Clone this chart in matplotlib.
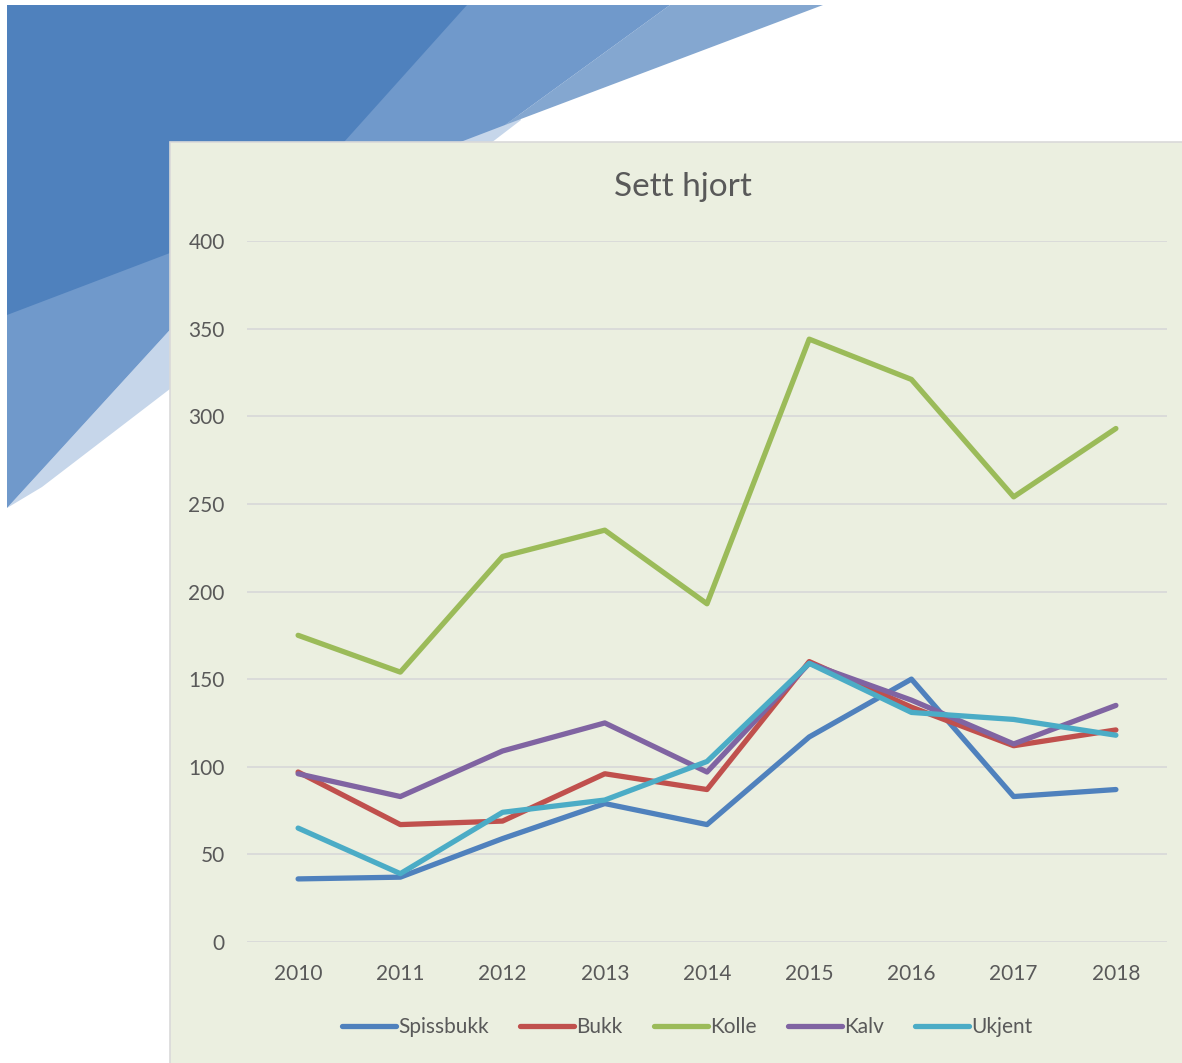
import matplotlib
matplotlib.use("Agg")
import matplotlib.pyplot as plt
from matplotlib.patches import Polygon, Rectangle

# data
years = [2010, 2011, 2012, 2013, 2014, 2015, 2016, 2017, 2018]
spissbukk = [36, 37, 59, 79, 67, 117, 150, 83, 87]
bukk = [97, 67, 69, 96, 87, 160, 134, 112, 121]
kolle = [175, 154, 220, 235, 193, 344, 321, 254, 293]
kalv = [96, 83, 109, 125, 97, 159, 138, 113, 135]
ukjent = [65, 39, 74, 81, 103, 159, 131, 127, 118]

series = [
    ("Spissbukk", spissbukk, "#4F81BD"),
    ("Bukk", bukk, "#C0504D"),
    ("Kolle", kolle, "#9BBB59"),
    ("Kalv", kalv, "#8064A2"),
    ("Ukjent", ukjent, "#4BACC6"),
]

plt.rcParams['font.family'] = ['Lato', 'DejaVu Sans']

W, H = 1182, 1063
fig = plt.figure(figsize=(W / 100, H / 100), dpi=100)
fig.patch.set_facecolor("white")

# decorative background shapes (pixel coordinates)
bg = fig.add_axes([0, 0, 1, 1], zorder=0)
bg.set_xlim(0, W)
bg.set_ylim(H, 0)
bg.axis("off")

shapes = [
    ([(7, 508), (42, 487), (521, 120), (467, 5)], "#C6D6EA"),
    ([(7, 5), (467, 5), (7, 508)], "#7099CB"),
    ([(670, 5), (823, 5), (505, 125)], "#84A7D0"),
    ([(7, 5), (670, 5), (505, 125), (7, 315)], "#7099CB"),
    ([(7, 5), (467, 5), (283, 210), (7, 315)], "#4F81BD"),
]
for pts, col in shapes:
    bg.add_patch(Polygon(pts, closed=True, facecolor=col, edgecolor="none"))

# chart box
bg.add_patch(Rectangle((170, 142), W - 170 + 5, H - 142 + 5,
                       facecolor="#EBEFE0", edgecolor="#D9D9D9", linewidth=1.2))

# main plot
ax = fig.add_axes([247 / W, 1 - 942 / H, (1167 - 247) / W, (942 - 241) / H], zorder=1)
ax.set_facecolor("none")
x = list(range(len(years)))
for name, vals, col in series:
    ax.plot(x, vals, color=col, linewidth=3.8, solid_capstyle="round",
            solid_joinstyle="round", label=name)

ax.set_xlim(-0.5, len(years) - 0.5)
ax.set_ylim(0, 400)
ax.set_yticks(range(0, 401, 50))
ax.set_xticks(x)
ax.set_xticklabels([str(y) for y in years])
ax.yaxis.grid(True, color="#D9D9D9", linewidth=1.3)
ax.set_axisbelow(True)
for s in ax.spines.values():
    s.set_visible(False)
ax.tick_params(axis="both", length=0, labelsize=15, colors="#595959")
ax.tick_params(axis="y", pad=16)
ax.tick_params(axis="x", pad=16)

fig.text(683 / W, 1 - 187 / H, "Sett hjort", ha="center", va="center",
         fontsize=24, color="#595959")

leg = ax.legend(loc="center", bbox_to_anchor=(687 / W, 1 - 1027 / H),
                bbox_transform=fig.transFigure, ncol=5, frameon=False,
                fontsize=15, handlelength=2.6, handletextpad=0.1,
                columnspacing=1.5, labelcolor="#595959")

fig.savefig("out.png", dpi=100, facecolor="white")
